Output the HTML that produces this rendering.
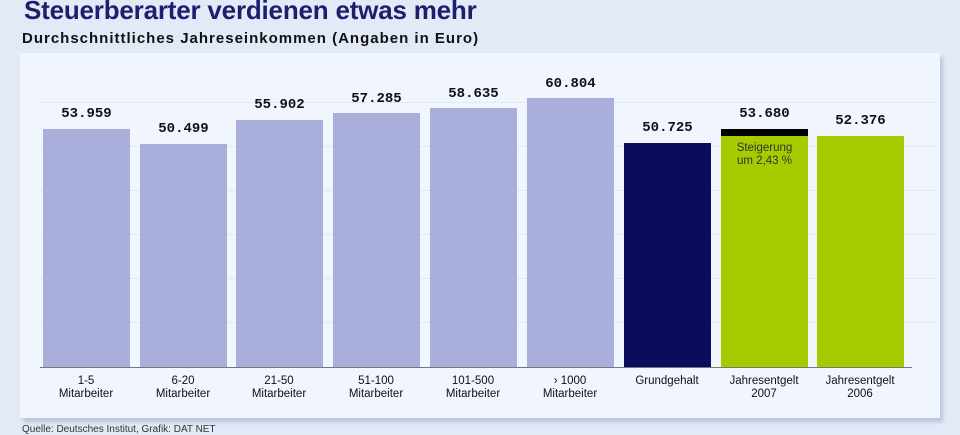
<!DOCTYPE html>
<html><head><style>
body{margin:0;width:960px;height:430px;background:#e3eaf7;font-family:"Liberation Sans",sans-serif;position:relative;overflow:hidden}
.t{position:absolute;left:24px;top:-5px;font-size:26px;font-weight:bold;color:#1d1f6e;letter-spacing:-0.2px}
.s{position:absolute;left:22px;top:30px;font-size:15px;font-weight:bold;color:#111;letter-spacing:1px}
.p{position:absolute;left:20px;top:53px;width:920px;height:365px;background:#f1f5fd;box-shadow:3px 4px 4px #b9c3dc}
.g{position:absolute;left:40px;width:895px;height:1px;background:#e2e7f3}
.b{position:absolute;width:87px;bottom:63px;background:#aaaedb}
.v{position:absolute;width:87px;text-align:center;font-family:"Liberation Mono",monospace;font-weight:bold;font-size:14px;color:#111}
.l{position:absolute;width:100px;top:375px;text-align:center;font-size:11.5px;line-height:13px;color:#111}
.src{position:absolute;left:22px;top:424px;font-size:10px;color:#333}
</style></head><body>
<div class="t">Steuerberarter verdienen etwas mehr</div>
<div class="s">Durchschnittliches Jahreseinkommen (Angaben in Euro)</div>
<div class="p"></div>
<div class="g" style="top:102px"></div><div class="g" style="top:146px"></div><div class="g" style="top:190px"></div><div class="g" style="top:234px"></div><div class="g" style="top:278px"></div><div class="g" style="top:322px"></div>
<div style="position:absolute;left:40px;top:367px;width:872px;height:1px;background:#777"></div>

<div class="b" style="left:43px;top:129px"></div><div class="v" style="left:43px;top:106px">53.959</div><div class="l" style="left:36px">1-5<br>Mitarbeiter</div>
<div class="b" style="left:140px;top:144px"></div><div class="v" style="left:140px;top:121px">50.499</div><div class="l" style="left:133px">6-20<br>Mitarbeiter</div>
<div class="b" style="left:236px;top:120px"></div><div class="v" style="left:236px;top:97px">55.902</div><div class="l" style="left:229px">21-50<br>Mitarbeiter</div>
<div class="b" style="left:333px;top:113px"></div><div class="v" style="left:333px;top:91px">57.285</div><div class="l" style="left:326px">51-100<br>Mitarbeiter</div>
<div class="b" style="left:430px;top:108px"></div><div class="v" style="left:430px;top:86px">58.635</div><div class="l" style="left:423px">101-500<br>Mitarbeiter</div>
<div class="b" style="left:527px;top:98px"></div><div class="v" style="left:527px;top:76px">60.804</div><div class="l" style="left:520px">› 1000<br>Mitarbeiter</div>
<div class="b" style="left:624px;top:143px;background:#0c0c5e"></div><div class="v" style="left:624px;top:120px">50.725</div><div class="l" style="left:617px">Grundgehalt</div>
<div class="b" style="left:721px;top:129px;background:#a6cc00;border-top:7px solid #000;height:auto"></div><div class="v" style="left:721px;top:106px">53.680</div>
<div style="position:absolute;left:721px;top:142px;width:87px;text-align:center;font-size:11.5px;line-height:13px;color:#333">Steigerung<br>um 2,43 %</div>
<div class="l" style="left:714px">Jahresentgelt<br>2007</div>
<div class="b" style="left:817px;top:136px;background:#a6cc00"></div><div class="v" style="left:817px;top:113px">52.376</div><div class="l" style="left:810px">Jahresentgelt<br>2006</div>
<div class="src">Quelle: Deutsches Institut, Grafik: DAT NET</div>
</body></html>
